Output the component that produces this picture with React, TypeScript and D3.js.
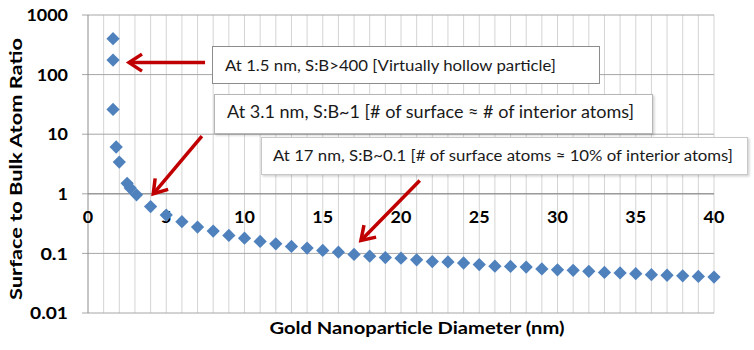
import React from "react"
import * as d3 from "d3"

// gold nanoparticle diameter (nm) vs surface:bulk atom ratio
const diameters = [1.6, 1.6, 1.6, 1.8, 2.0, 2.5, 2.7, 3.1,
  4, 5, 6, 7, 8, 9, 10, 11, 12, 13, 14, 15, 16, 17, 18, 19, 20, 21, 22,
  23, 24, 25, 26, 27, 28, 29, 30, 31, 32, 33, 34, 35, 36, 37, 38, 39, 40]
const ratios = [400, 175, 26, 6.1, 3.4, 1.5, 1.25, 0.96,
  0.61, 0.44, 0.34, 0.276, 0.237, 0.2, 0.18, 0.159, 0.145, 0.131, 0.123, 0.112, 0.105, 0.096, 0.09, 0.085, 0.083, 0.078, 0.073,
  0.072, 0.069, 0.065, 0.061, 0.0605, 0.059, 0.055, 0.053, 0.052, 0.05, 0.048, 0.047, 0.0457, 0.044, 0.043, 0.042, 0.041, 0.04]

const xTicks = [0, 5, 10, 15, 20, 25, 30, 35, 40]
const yTicks = [0.01, 0.1, 1, 10, 100, 1000]
const yTickLabels = ["0.01", "0.1", "1", "10", "100", "1000"]

const notes = [
  "At 1.5 nm, S:B>400  [Virtually hollow particle]",
  "At 3.1 nm, S:B~1 [# of surface \u2248 # of interior atoms]",
  "At 17 nm, S:B~0.1 [# of surface atoms \u2248 10% of interior atoms]",
]
// arrows in data units: [x0, y0, x1, y1]
const arrows = [
  [7.48, 159, 2.62, 159],
  [7.28, 9.25, 4.17, 1],
  [21.2, 1.67, 17.44, 0.165],
]

const W = 754, H = 350
const margin = { top: 15, right: 40, bottom: 37, left: 88 }
const font = "Lato, 'Open Sans', sans-serif"

// the original image is a bit stretched sideways, so widen the numbers
const labelLen = (s: string) => s.replace(/\./g, "").length * 10.4 + (s.includes(".") ? 6.8 : 0)

export default function App() {
  const x = d3.scaleLinear().domain([0, 40]).range([margin.left, 714])
  const y = d3.scaleLog().domain([0.01, 1000]).range([H - margin.bottom, margin.top])
  const diamond = d3.symbol(d3.symbolSquare, 88)()
  const minor = d3.range(1, 41)

  // annotation boxes (pixel layout)
  const boxes = [
    { x: 212, y: 46, w: 387, h: 37, stroke: "#8c8c8c", tx: 225, ty: 70.5, len: 331, size: 15.5 },
    { x: 214, y: 94, w: 438, h: 39, stroke: "#b5b5b5", tx: 227, ty: 118.3, len: 407, size: 18 },
    { x: 261, y: 137, w: 486, h: 37, stroke: "#c8c8c8", tx: 273, ty: 160.7, len: 460, size: 15.5 },
  ]

  return (
    <svg width={W} height={H} style={{ position: "absolute", left: 0, top: 0, background: "#fff" }}>
      <defs>
        <marker id="head" markerUnits="userSpaceOnUse" markerWidth="30" markerHeight="30"
          refX="0" refY="0" viewBox="-20 -15 30 30" orient="auto">
          <path d="M-13,-8.5 L0,0 L-13,8.5" fill="none" stroke="#C00000" strokeWidth="3.5" />
        </marker>
        <filter id="shadow" x="-5%" y="-20%" width="110%" height="150%">
          <feDropShadow dx="1.5" dy="1.5" stdDeviation="1" floodColor="#000" floodOpacity="0.18" />
        </filter>
      </defs>
      {minor.map(d => (
        <line key={"v" + d} x1={x(d)} x2={x(d)} y1={y(1000)} y2={y(0.01)} stroke="#d4d4d4" strokeWidth={1} />
      ))}
      {yTicks.map(d => (
        <line key={"h" + d} x1={x(0) - 6} x2={x(40)} y1={y(d)} y2={y(d)} stroke="#a6a6a6" strokeWidth={1} />
      ))}
      <line x1={x(0)} x2={x(0)} y1={y(1000)} y2={y(0.01)} stroke="#8c8c8c" />
      <line x1={x(0)} x2={x(40)} y1={y(1)} y2={y(1)} stroke="#8c8c8c" />
      {yTicks.map((d, i) => (
        <text key={"yt" + d} x={68} y={y(d)} dy="0.36em" textAnchor="end" fontFamily={font}
          fontWeight="bold" fontSize={17} fill="#000"
          textLength={labelLen(yTickLabels[i])} lengthAdjust="spacingAndGlyphs">{yTickLabels[i]}</text>
      ))}
      {xTicks.map(d => (
        <text key={"xt" + d} x={x(d)} y={y(1) + 29} textAnchor="middle" fontFamily={font}
          fontWeight="bold" fontSize={17} fill="#000"
          textLength={labelLen(String(d))} lengthAdjust="spacingAndGlyphs">{d}</text>
      ))}
      <text x={417} y={334} textAnchor="middle" fontFamily={font} fontWeight="bold" fontSize={17}
        textLength={295} lengthAdjust="spacingAndGlyphs" fill="#000">Gold Nanoparticle Diameter (nm)</text>
      <text transform={`translate(22,169) rotate(-90)`} textAnchor="middle" fontFamily={font} fontWeight="bold"
        fontSize={17} textLength={262} lengthAdjust="spacingAndGlyphs" fill="#000">Surface to Bulk  Atom  Ratio</text>
      {diameters.map((d, i) => (
        <path key={"p" + i} d={diamond!} transform={`translate(${x(d)},${y(ratios[i])}) rotate(45)`} fill="#4F81BD" />
      ))}
      {boxes.map((b, i) => (
        <g key={"b" + i}>
          <rect x={b.x + 0.5} y={b.y + 0.5} width={b.w} height={b.h} fill="#fff" stroke={b.stroke}
            filter={i > 0 ? "url(#shadow)" : undefined} />
          <text x={b.tx} y={b.ty} fontFamily={font} fontSize={b.size} fill="#1a1a1a"
            textLength={b.len} lengthAdjust="spacingAndGlyphs">{notes[i]}</text>
        </g>
      ))}
      {arrows.map((a, i) => (
        <line key={"a" + i} x1={x(a[0])} y1={y(a[1])} x2={x(a[2])} y2={y(a[3])}
          stroke="#C00000" strokeWidth={3.5} markerEnd="url(#head)" />
      ))}
    </svg>
  )
}
